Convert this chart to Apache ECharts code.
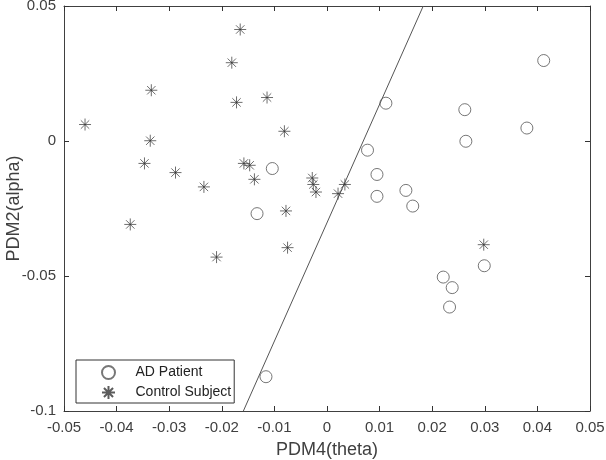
<!DOCTYPE html>
<html>
<head>
<meta charset="utf-8">
<script src="https://cdn.jsdelivr.net/npm/echarts@6/dist/echarts.min.js"></script>
<style>html,body{margin:0;padding:0;background:#fff}#c{width:606px;height:460px}</style>
</head>
<body>
<div id="c"></div>
<script>
const adX = [-0.0104, -0.0133, -0.0116, 0.0412, 0.0112, 0.0262, 0.0380, 0.0264, 0.0077, 0.0095, 0.0095, 0.0150, 0.0163, 0.0299, 0.0221, 0.0238, 0.0233];
const adY = [-0.0102, -0.0269, -0.0873, 0.0298, 0.0140, 0.0116, 0.0048, -0.0001, -0.0034, -0.0124, -0.0205, -0.0183, -0.0241, -0.0462, -0.0504, -0.0543, -0.0615];
const ctrlX = [-0.0165, -0.0181, -0.0334, -0.0172, -0.0114, -0.0460, -0.0336, -0.0081, -0.0347, -0.0288, -0.0234, -0.0158, -0.0147, -0.0138, -0.0028, -0.0026, -0.0021, -0.0078, 0.0034, 0.0021, -0.0374, -0.0075, -0.0210, 0.0298];
const ctrlY = [0.0413, 0.0290, 0.0188, 0.0143, 0.0161, 0.0061, 0.0001, 0.0036, -0.0083, -0.0117, -0.0170, -0.0083, -0.0090, -0.0142, -0.0137, -0.0161, -0.0189, -0.0259, -0.0161, -0.0195, -0.0309, -0.0395, -0.0430, -0.0384];
const lineX = [-0.0159, 0.0183];
const lineY = [-0.1, 0.05];
const xTicks = [-0.05, -0.04, -0.03, -0.02, -0.01, 0, 0.01, 0.02, 0.03, 0.04, 0.05];
const yTicks = [-0.1, -0.05, 0, 0.05];

const X_MIN = -0.05, X_MAX = 0.05, Y_MIN = -0.1, Y_MAX = 0.05;
const zip = (a, b) => a.map((v, i) => [v, b[i]]);
const fmt = v => {
  const r = Math.round(v * 100) / 100;
  if (r === 0) return '0';
  return String(r);
};
const FONT = '"Liberation Sans", Arial, sans-serif';
const axisCol = '#404040';
const starPath = 'path://M0,5L10,5M5,0L5,10M1.5,1.5L8.5,8.5M8.5,1.5L1.5,8.5';

const chart = echarts.init(document.getElementById('c'), null, {renderer: 'canvas'});
const mkAxis = extra => Object.assign({
  gridIndex: 0,
  axisLine: {show: true, onZero: false, lineStyle: {color: axisCol, width: 1}},
  axisTick: {show: true, inside: true, length: 5, lineStyle: {color: '#333', width: 1}},
  splitLine: {show: false}
}, extra);

chart.setOption({
  animation: false,
  backgroundColor: '#fff',
  grid: {left: 64, right: 16, top: 6, bottom: 49, containLabel: false, outerBoundsMode: 'none'},
  xAxis: [
    mkAxis({
      type: 'value', min: X_MIN, max: X_MAX, interval: 0.01, position: 'bottom',
      name: 'PDM4(theta)', nameLocation: 'middle', nameGap: 30, nameMoveOverlap: false,
      nameTextStyle: {fontFamily: FONT, fontSize: 18, color: '#404040'},
      axisLabel: {fontFamily: FONT, fontSize: 15, color: '#404040', margin: 9,
        formatter: v => fmt(v)}
    }),
    mkAxis({
      type: 'value', min: X_MIN, max: X_MAX, interval: 0.01, position: 'top',
      axisLabel: {show: false}
    })
  ],
  yAxis: [
    mkAxis({
      type: 'value', min: Y_MIN, max: Y_MAX, interval: 0.05, position: 'left',
      name: 'PDM2(alpha)', nameLocation: 'middle', nameGap: 41, nameMoveOverlap: false,
      nameTextStyle: {fontFamily: FONT, fontSize: 18, color: '#404040'},
      axisLabel: {fontFamily: FONT, fontSize: 15, color: '#404040', margin: 8,
        formatter: v => fmt(v)}
    }),
    mkAxis({
      type: 'value', min: Y_MIN, max: Y_MAX, interval: 0.05, position: 'right',
      axisLabel: {show: false}
    })
  ],
  legend: {
    left: 76, top: 360, orient: 'vertical',
    borderColor: '#333', borderWidth: 1, backgroundColor: '#fff',
    padding: [5, 3, 3, 25], itemGap: 5, itemWidth: 44, itemHeight: 13,
    textStyle: {fontFamily: FONT, fontSize: 14, color: '#222'},
    data: ['AD Patient', 'Control Subject']
  },
  series: [
    {
      type: 'line', data: zip(lineX, lineY), showSymbol: false, symbol: 'none',
      xAxisIndex: 1, yAxisIndex: 1,
      lineStyle: {color: '#555', width: 1}, silent: true, z: 1
    },
    {
      name: 'AD Patient', type: 'scatter', data: zip(adX, adY),
      symbol: 'circle', symbolSize: 12,
      itemStyle: {color: 'rgba(0,0,0,0)', borderColor: '#555', borderWidth: 1},
      z: 3
    },
    {
      name: 'Control Subject', type: 'scatter', data: zip(ctrlX, ctrlY),
      symbol: starPath, symbolSize: 12,
      itemStyle: {color: 'rgba(0,0,0,0)', borderColor: '#333', borderWidth: 0.9},
      z: 4
    }
  ]
});
</script>
</body>
</html>
